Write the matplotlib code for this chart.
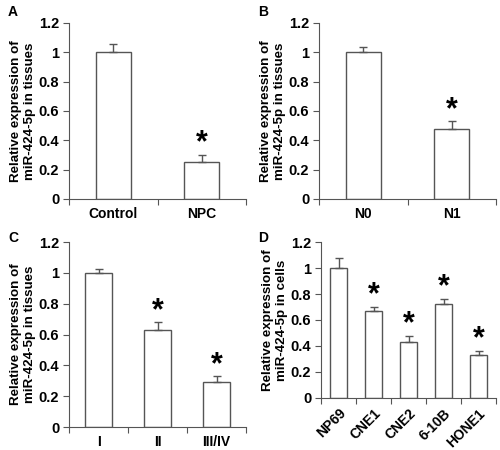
import numpy as np
import matplotlib.pyplot as plt

plt.rcParams['font.family'] = ['Liberation Sans', 'DejaVu Sans']
plt.rcParams['font.weight'] = 'bold'

# panel data
a_labels = ['Control', 'NPC']
a_values = [1.0, 0.25]
a_errors = [0.055, 0.05]
a_sig = [False, True]

b_labels = ['N0', 'N1']
b_values = [1.0, 0.48]
b_errors = [0.035, 0.05]
b_sig = [False, True]

c_labels = ['I', 'II', 'III/IV']
c_values = [1.0, 0.63, 0.29]
c_errors = [0.025, 0.05, 0.04]
c_sig = [False, True, True]

d_labels = ['NP69', 'CNE1', 'CNE2', '6-10B', 'HONE1']
d_values = [1.0, 0.67, 0.43, 0.72, 0.33]
d_errors = [0.075, 0.03, 0.05, 0.04, 0.03]
d_sig = [False, True, True, True, True]

EDGE = '#555555'


def draw_panel(ax, labels, values, errors, sig, width, ylabel, rotate=False):
    n = len(labels)
    x = np.arange(n)
    ax.bar(x, values, width=width, color='white', edgecolor=EDGE, linewidth=1.0,
           yerr=[np.zeros(n), errors], capsize=3,
           error_kw=dict(ecolor=EDGE, elinewidth=1.0, capthick=1.0))
    for xi, v, e, s in zip(x, values, errors, sig):
        if s:
            ax.text(xi, v + e - 0.025, '*', ha='center', va='bottom',
                    fontsize=22, fontweight='bold')
    ax.set_xlim(-0.5, n - 0.5)
    ax.set_ylim(0, 1.2)
    ax.set_yticks([0, 0.2, 0.4, 0.6, 0.8, 1.0, 1.2])
    ax.set_yticklabels(['0', '0.2', '0.4', '0.6', '0.8', '1', '1.2'], fontsize=10.5)
    ax.set_xticks(np.arange(n + 1) - 0.5)
    ax.set_xticklabels([])
    ax.set_xticks(x, minor=True)
    if rotate:
        ax.set_xticklabels(labels, minor=True, rotation=45, ha='right',
                           rotation_mode='anchor', fontsize=10)
    else:
        ax.set_xticklabels(labels, minor=True, fontsize=10)
    ax.tick_params(axis='x', which='minor', length=0, pad=6)
    ax.tick_params(axis='x', which='major', direction='out', length=4, color=EDGE)
    ax.tick_params(axis='y', direction='out', length=4, color=EDGE, pad=3)
    for side in ['top', 'right']:
        ax.spines[side].set_visible(False)
    for side in ['left', 'bottom']:
        ax.spines[side].set_color(EDGE)
    ax.set_ylabel(ylabel, fontsize=9.6, fontweight='bold', labelpad=2,
                  linespacing=1.25)


fig = plt.figure(figsize=(5, 4.5), dpi=100)

ax_a = fig.add_axes([0.138, 0.558, 0.354, 0.391])
ax_b = fig.add_axes([0.638, 0.558, 0.354, 0.391])
ax_c = fig.add_axes([0.138, 0.051, 0.354, 0.411])
ax_d = fig.add_axes([0.642, 0.116, 0.350, 0.346])

tissue_label = 'Relative expression of\nmiR-424-5p in tissues'
draw_panel(ax_a, a_labels, a_values, a_errors, a_sig, 0.4, tissue_label)
draw_panel(ax_b, b_labels, b_values, b_errors, b_sig, 0.4, tissue_label)
draw_panel(ax_c, c_labels, c_values, c_errors, c_sig, 0.47, tissue_label)
draw_panel(ax_d, d_labels, d_values, d_errors, d_sig, 0.5,
           'Relative expression of\nmiR-424-5p in cells', rotate=True)

for letter, (px, py) in zip('ABCD', [(8, 12), (258, 12), (8, 238), (258, 238)]):
    fig.text(px / 500, 1 - py / 450, letter, fontsize=10, fontweight='bold',
             ha='left', va='center')

fig.savefig('out.png', dpi=100)
